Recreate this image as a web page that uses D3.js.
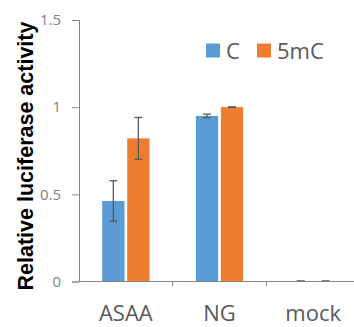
<!DOCTYPE html>
<html>
<head>
<meta charset="utf-8">
<script src="https://cdn.jsdelivr.net/npm/d3@7"></script>
<style>
  body { margin: 0; background: #fff; }
</style>
</head>
<body>
<svg id="chart"></svg>
<script>
var categories = ["ASAA", "NG", "mock"];
var series = ["C", "5mC"];
var valuesC = [0.462, 0.950, 0.002];
var values5mC = [0.821, 1.0, 0.002];
var errC = [0.116, 0.01, 0.001];
var err5mC = [0.12, 0.002, 0.001];
var yTicks = [0, 0.5, 1, 1.5];
var colors = ["#5b9bd5", "#ed7d31"];

var width = 354, height = 327;
var svg = d3.select("#chart").attr("width", width).attr("height", height);

var x0 = 79, x1 = 360, yTop = 20, yBottom = 281.5;

var x = d3.scaleBand().domain(categories).range([x0, x1]);
var xs = d3.scaleBand().domain(series).range([0, 47.3]).paddingInner(0.11);
var y = d3.scaleLinear().domain([0, 1.5]).range([yBottom, yTop]);

var allVals = [valuesC, values5mC];
var allErr = [errC, err5mC];

// y axis
var yAxis = svg.append("g")
    .attr("transform", "translate(" + x0 + ",0)")
    .call(d3.axisLeft(y).tickValues(yTicks).tickFormat(function(d){ return d; }).tickSize(7).tickPadding(11));
yAxis.select(".domain").attr("stroke", "#868686");
yAxis.selectAll(".tick line").attr("stroke", "#868686");
yAxis.selectAll("text")
    .attr("fill", "#7f7f7f")
    .style("font-family", "'Open Sans', sans-serif")
    .style("font-size", "15px");

// bars
series.forEach(function(s, si){
  var g = svg.append("g");
  g.selectAll("rect")
    .data(categories)
    .enter().append("rect")
      .attr("x", function(d){ return x(d) + (x.bandwidth() - 47.3)/2 + xs(s); })
      .attr("y", function(d, i){ return y(allVals[si][i]); })
      .attr("width", xs.bandwidth())
      .attr("height", function(d, i){ return yBottom - y(allVals[si][i]); })
      .attr("fill", colors[si]);

  // error bars
  categories.forEach(function(c, i){
    var cx = x(c) + (x.bandwidth() - 47.3)/2 + xs(s) + xs.bandwidth()/2;
    var v = allVals[si][i], e = allErr[si][i];
    var eg = svg.append("g").attr("stroke", "#595959").attr("stroke-width", 1.3);
    eg.append("line").attr("x1", cx).attr("x2", cx).attr("y1", y(v + e)).attr("y2", y(v - e));
    eg.append("line").attr("x1", cx - 4).attr("x2", cx + 4).attr("y1", y(v + e)).attr("y2", y(v + e));
    eg.append("line").attr("x1", cx - 4).attr("x2", cx + 4).attr("y1", y(v - e)).attr("y2", y(v - e));
  });
});

// x axis
svg.append("line")
    .attr("x1", x0).attr("x2", x1)
    .attr("y1", yBottom).attr("y2", yBottom)
    .attr("stroke", "#868686");
svg.selectAll(".xtick")
    .data(categories.slice(1))
    .enter().append("line")
      .attr("x1", function(d){ return x(d); })
      .attr("x2", function(d){ return x(d); })
      .attr("y1", yBottom).attr("y2", yBottom + 5)
      .attr("stroke", "#868686");
svg.selectAll(".xlabel")
    .data(categories)
    .enter().append("text")
      .attr("x", function(d){ return x(d) + x.bandwidth()/2; })
      .attr("y", 321)
      .attr("text-anchor", "middle")
      .attr("fill", "#595959")
      .style("font-family", "'Open Sans', sans-serif")
      .style("font-size", "22px")
      .text(function(d){ return d; });

// y title
svg.append("text")
    .attr("transform", "translate(33,156) rotate(-90)")
    .attr("text-anchor", "middle")
    .attr("fill", "#000")
    .style("font-family", "'Liberation Sans', Arial, sans-serif")
    .style("font-weight", "bold")
    .style("font-size", "21.5px")
    .text("Relative luciferase activity");

// legend
var legend = svg.append("g");
var legendX = [206, 257];
series.forEach(function(s, i){
  legend.append("rect")
    .attr("x", legendX[i]).attr("y", 43.5)
    .attr("width", 14).attr("height", 14)
    .attr("fill", colors[i]);
  legend.append("text")
    .attr("x", legendX[i] + 20).attr("y", 58.5)
    .attr("fill", "#595959")
    .style("font-family", "'Open Sans', sans-serif")
    .style("font-size", "22px")
    .text(s);
});
</script>
</body>
</html>
